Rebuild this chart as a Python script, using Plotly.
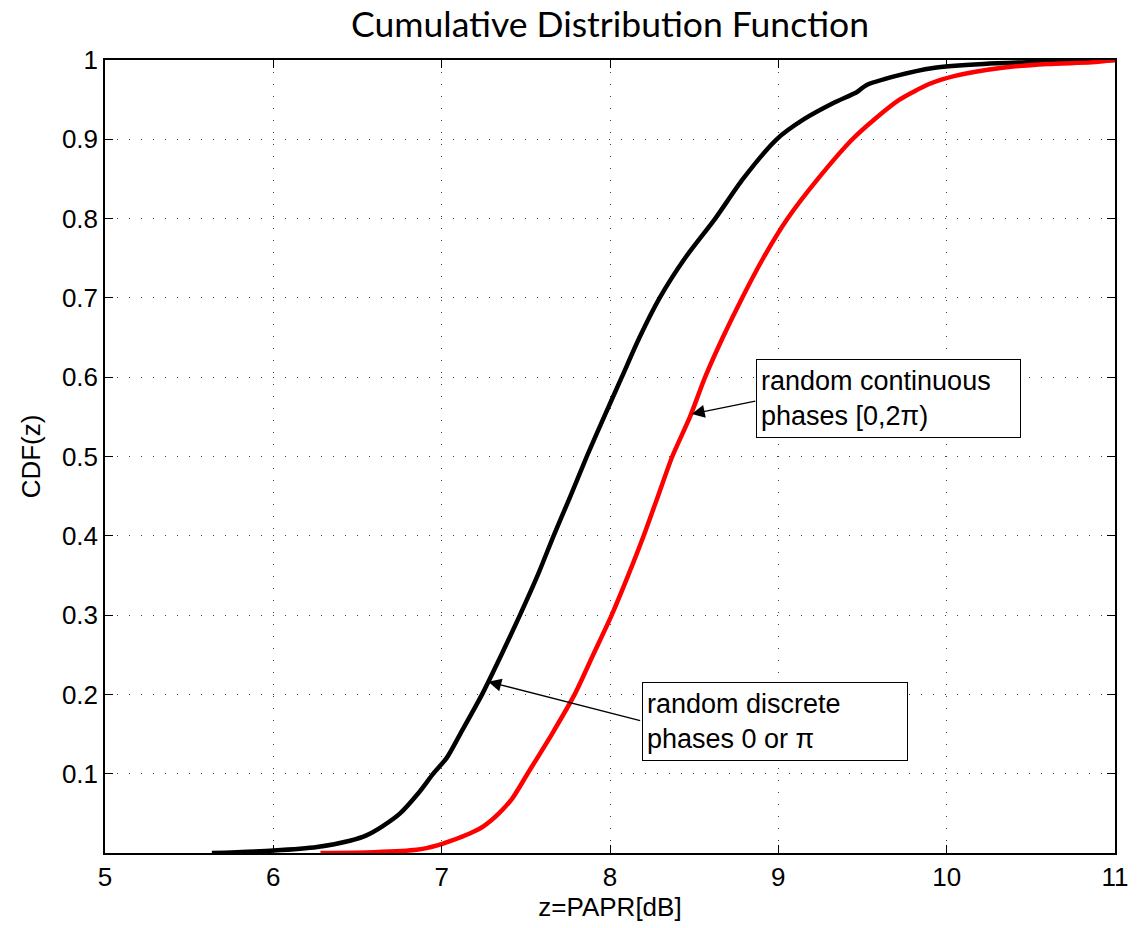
import plotly.graph_objects as go

# ---- data ----
black_x = [5.635, 6.0, 6.26, 6.455, 6.556, 6.65, 6.753, 6.86, 6.95, 7.03, 7.11, 7.24, 7.355,
           7.465, 7.57, 7.665, 7.765, 7.862, 7.965, 8.07, 8.175, 8.295, 8.445, 8.625, 8.79, 8.99,
           9.15, 9.33, 9.47, 9.52, 9.7, 9.92, 10.22, 10.6, 11.0]
black_y = [0.0, 0.003, 0.0075, 0.0155, 0.0226, 0.034, 0.05, 0.075, 0.1, 0.12, 0.15, 0.2, 0.25,
           0.3, 0.35, 0.4, 0.45, 0.5, 0.55, 0.6, 0.65, 0.7, 0.75, 0.8, 0.85, 0.9,
           0.925, 0.946, 0.96, 0.968, 0.98, 0.99, 0.995, 0.998, 1.0]

red_x = [6.28, 6.6, 6.85, 6.98, 7.05, 7.17, 7.25, 7.34, 7.42, 7.51, 7.655, 7.79, 7.90, 8.01,
         8.108, 8.20, 8.285, 8.37, 8.475, 8.565, 8.67, 8.785, 8.91, 9.055, 9.235, 9.44, 9.57,
         9.72, 9.9, 10.05, 10.32, 10.6, 10.86, 11.0]
red_y = [0.0, 0.001, 0.004, 0.01, 0.015, 0.025, 0.034, 0.05, 0.069, 0.1, 0.15, 0.2, 0.25, 0.3,
         0.35, 0.4, 0.45, 0.5, 0.55, 0.6, 0.65, 0.7, 0.75, 0.8, 0.85, 0.9, 0.925,
         0.95, 0.97, 0.98, 0.99, 0.995, 0.997, 1.0]

x_ticks = [5, 6, 7, 8, 9, 10, 11]
y_ticks = [0.1, 0.2, 0.3, 0.4, 0.5, 0.6, 0.7, 0.8, 0.9, 1.0]
y_ticktext = ["0.1", "0.2", "0.3", "0.4", "0.5", "0.6", "0.7", "0.8", "0.9", "1"]

title_text = "Cumulative Distribution Function"
x_label = "z=PAPR[dB]"
y_label = "CDF(z)"
note_cont = "random continuous<br>phases [0,2π)"
note_disc = "random discrete<br>phases 0 or π"

FONT = "Liberation Sans, Arial, sans-serif"

fig = go.Figure()
fig.add_trace(go.Scatter(x=black_x, y=black_y, mode="lines",
                         line=dict(color="black", width=4.5, shape="spline", smoothing=0.7),
                         showlegend=False))
fig.add_trace(go.Scatter(x=red_x, y=red_y, mode="lines",
                         line=dict(color="#ff0000", width=4.5, shape="spline", smoothing=0.7),
                         showlegend=False))

axis_common = dict(showline=True, linecolor="black", linewidth=1.5, mirror="allticks",
                   ticks="inside", ticklen=8, tickcolor="black", tickwidth=1,
                   showgrid=True, gridcolor="#444", gridwidth=1, griddash="1px,11px",
                   zeroline=False, tickfont=dict(family=FONT, size=26, color="black"))

fig.update_xaxes(range=[5, 11], tickvals=x_ticks, title=dict(text=x_label, standoff=6,
                 font=dict(family=FONT, size=26, color="black")), **axis_common)
fig.update_yaxes(range=[0, 1], tickvals=y_ticks, ticktext=y_ticktext,
                 title=dict(text=y_label, standoff=14, font=dict(family=FONT, size=26, color="black")),
                 **axis_common)

box_font = dict(family=FONT, size=27, color="black")
fig.add_annotation(x=9.657, y=0.5736, xref="x", yref="y", text=note_cont, showarrow=False,
                   align="left", bordercolor="black", borderwidth=1, borderpad=4,
                   width=255, height=69, bgcolor="white", font=box_font)
fig.add_annotation(x=8.980, y=0.166, xref="x", yref="y", text=note_disc, showarrow=False,
                   align="left", bordercolor="black", borderwidth=1, borderpad=4,
                   width=256, height=69, bgcolor="white", font=box_font)
fig.add_annotation(x=8.4854, y=0.5535, ax=8.872, ay=0.5702, xref="x", yref="y",
                   axref="x", ayref="y", text="", showarrow=True, arrowhead=2,
                   arrowsize=2, arrowwidth=1.3, arrowcolor="black", standoff=0)
fig.add_annotation(x=7.277, y=0.216, ax=8.188, ay=0.1664, xref="x", yref="y",
                   axref="x", ayref="y", text="", showarrow=True, arrowhead=2,
                   arrowsize=2, arrowwidth=1.3, arrowcolor="black", standoff=0)

fig.update_layout(
    width=1146, height=928,
    margin=dict(l=105, r=31, t=60, b=73),
    paper_bgcolor="white", plot_bgcolor="white",
    title=dict(text=title_text, x=0.5, xref="paper", xanchor="center", y=0.973,
               yanchor="middle", font=dict(family="Lato, sans-serif", size=35.5, color="black")),
)

fig.write_html("out.html")
